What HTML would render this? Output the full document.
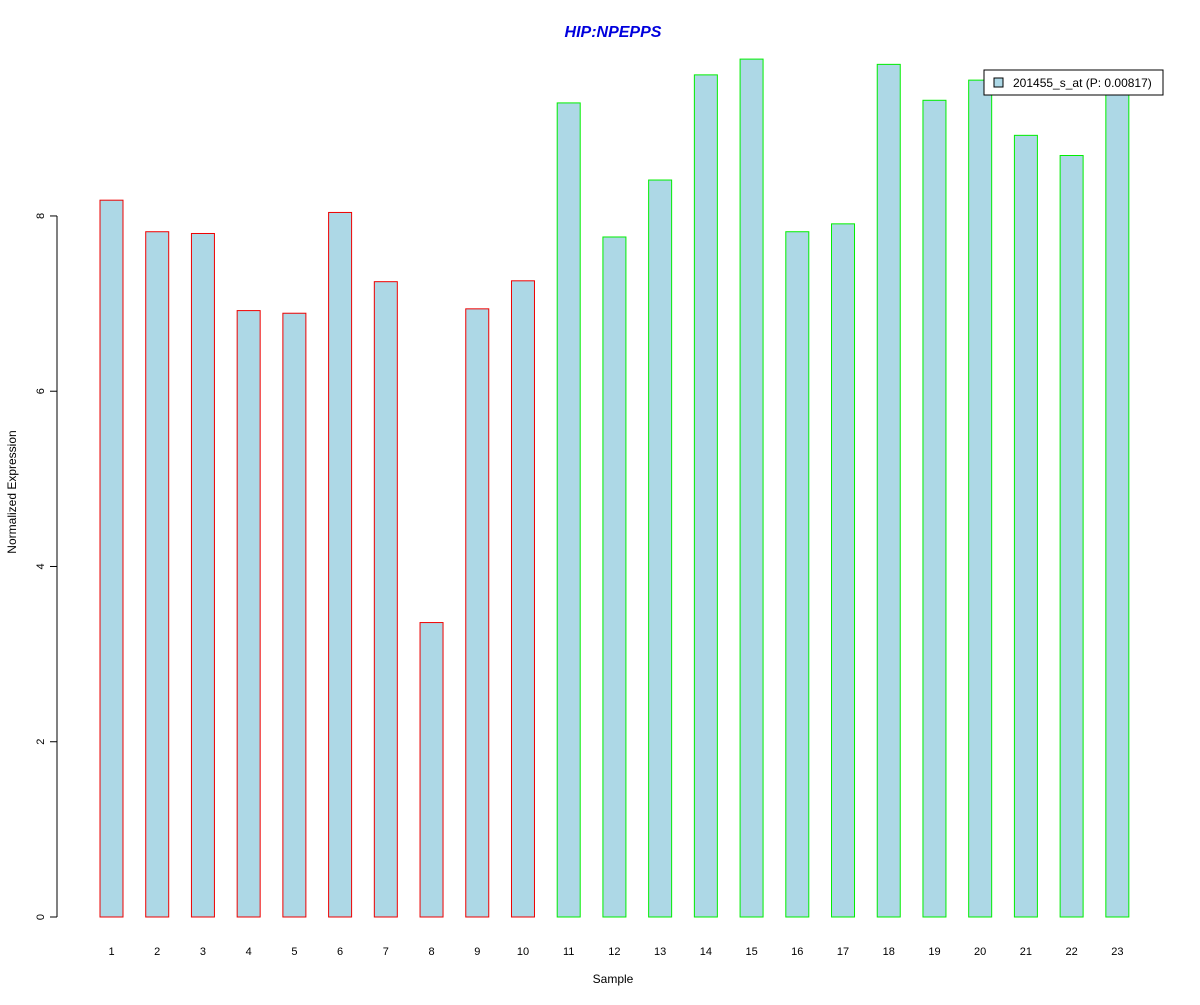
<!DOCTYPE html>
<html><head><meta charset="utf-8"><style>
body{margin:0;background:#fff}
text{font-family:"Liberation Sans",Arial,sans-serif}
</style></head><body>
<svg id="chart" width="1200" height="1000" xmlns="http://www.w3.org/2000/svg">
<rect width="1200" height="1000" fill="#fff"/>
<text x="613" y="37" text-anchor="middle" font-size="16" font-weight="bold" font-style="italic" fill="#0000dd">HIP:NPEPPS</text>
<g id="bars"></g>
<g id="yaxis"></g>
<g id="xaxis"></g>
<text transform="translate(16,492) rotate(-90)" text-anchor="middle" font-size="12">Normalized Expression</text>
<text x="613" y="983" text-anchor="middle" font-size="12">Sample</text>
<g>
<rect x="984" y="70" width="179" height="25" fill="#fff" stroke="#000"/>
<rect x="994" y="78" width="9" height="9" fill="#add8e6" stroke="#000"/>
<text x="1013" y="87" font-size="12">201455_s_at (P: 0.00817)</text>
</g>
</svg>
<script>
const categories=["1","2","3","4","5","6","7","8","9","10","11","12","13","14","15","16","17","18","19","20","21","22","23"];
const values=[8.18,7.82,7.80,6.92,6.89,8.04,7.25,3.36,6.94,7.26,9.29,7.76,8.41,9.61,9.79,7.82,7.91,9.73,9.32,9.55,8.92,8.69,9.45];
const groups=[0,0,0,0,0,0,0,0,0,0,1,1,1,1,1,1,1,1,1,1,1,1,1];
const yTicks=[0,2,4,6,8];
const NS="http://www.w3.org/2000/svg";
const y=v=>917-v*87.63;
const x=i=>111.5+i*45.72;
const bw=23;
const bars=document.getElementById('bars'),xa=document.getElementById('xaxis'),ya=document.getElementById('yaxis');
function mk(tag,a,p){const e=document.createElementNS(NS,tag);for(const k in a)e.setAttribute(k,a[k]);p.appendChild(e);return e;}
values.forEach((v,i)=>{
 const r=mk('rect',{x:x(i)-bw/2,y:y(v),width:bw,height:y(0)-y(v),fill:'#add8e6',stroke:groups[i]?'#00ee00':'#ee0000'},bars);
 
 
 const t=mk('text',{x:x(i),y:955,'text-anchor':'middle','font-size':11},xa);
 t.textContent=categories[i];
 
 
});
mk('line',{x1:57,x2:57,y1:y(yTicks[yTicks.length-1]),y2:y(0),stroke:'#000'},ya);
yTicks.forEach(v=>{
 mk('line',{x1:50,x2:57,y1:y(v),y2:y(v),stroke:'#000'},ya);
 const t=mk('text',{transform:`translate(44,${y(v)}) rotate(-90)`,'text-anchor':'middle','font-size':11},ya);
 t.textContent=v;
 
 
});
</script>
</body></html>
